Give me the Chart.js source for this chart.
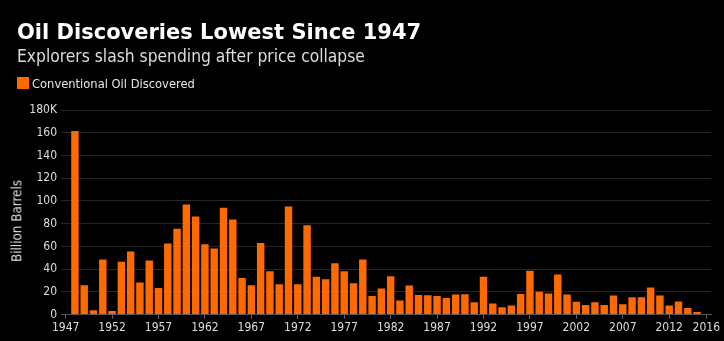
<!DOCTYPE html>
<html>
<head>
<meta charset="utf-8">
<script src="https://cdn.jsdelivr.net/npm/chart.js@4"></script>
<style>
  html, body { margin: 0; padding: 0; background: #000; }
  #wrap { position: relative; width: 724px; height: 341px; overflow: hidden; }
  #chart { position: absolute; left: 0; top: 0; }
  .hdr { position: absolute; left: 17px; line-height: 1; white-space: nowrap; font-family: 'DejaVu Sans Condensed', 'DejaVu Sans', sans-serif; font-stretch: condensed; }
  #title { top: 22px; font-family: 'DejaVu Sans', sans-serif; font-stretch: normal; font-size: 21px; font-weight: bold; color: #fff; }
  #subtitle { top: 48px; font-size: 17.3px; color: #ddd; }
  #legend { top: 77px; font-size: 12.8px; color: #e6e6e6; }
  #legend span.box { display: inline-block; width: 12px; height: 12px; background: #ff6a00; vertical-align: -1px; margin-right: 3px; }
  #ytitle { left: 17px; top: 221px; font-size: 13.3px; color: #ddd; transform: translate(-50%, -50%) rotate(-90deg); }
</style>
</head>
<body>
<div id="wrap">
  <canvas id="chart" width="724" height="341"></canvas>
  <div class="hdr" id="title">Oil Discoveries Lowest Since 1947</div>
  <div class="hdr" id="subtitle">Explorers slash spending after price collapse</div>
  <div class="hdr" id="legend"><span class="box"></span>Conventional Oil Discovered</div>
  <div class="hdr" id="ytitle">Billion Barrels</div>
</div>
<script>
const years = [
  1947, 1948, 1949, 1950, 1951, 1952, 1953, 1954, 1955, 1956,
  1957, 1958, 1959, 1960, 1961, 1962, 1963, 1964, 1965, 1966,
  1967, 1968, 1969, 1970, 1971, 1972, 1973, 1974, 1975, 1976,
  1977, 1978, 1979, 1980, 1981, 1982, 1983, 1984, 1985, 1986,
  1987, 1988, 1989, 1990, 1991, 1992, 1993, 1994, 1995, 1996,
  1997, 1998, 1999, 2000, 2001, 2002, 2003, 2004, 2005, 2006,
  2007, 2008, 2009, 2010, 2011, 2012, 2013, 2014, 2015, 2016
];

// billion barrels per year
const oilDiscovered = [
  0, 161.5, 25.8, 3.8, 48.4, 3.2, 46.4, 55.5, 28.2, 47.6,
  23.5, 62.5, 75.5, 96.9, 86.3, 62, 58.1, 94, 83.7, 32.3,
  25.8, 63.1, 38.2, 26.7, 95.1, 26.7, 78.7, 33.2, 31.1, 45.2,
  38.2, 27.6, 48.4, 16.4, 22.9, 33.8, 12.3, 25.5, 17.3, 17,
  16.4, 14.7, 17.6, 17.9, 10.9, 33.2, 9.7, 6.5, 7.9, 18.2,
  38.5, 20, 18.5, 35.2, 17.6, 11.2, 8.5, 10.9, 8.5, 16.7,
  9.1, 15.3, 15.3, 23.8, 16.7, 7.9, 11.5, 5.9, 2.3, null
];

const tickYears = [1947, 1952, 1957, 1962, 1967, 1972, 1977, 1982, 1987, 1992, 1997, 2002, 2007, 2012, 2016];
const yTicks = [0, 20, 40, 60, 80, 100, 120, 140, 160, 180];

const fontFamily = "'DejaVu Sans Condensed', 'DejaVu Sans', sans-serif";

new Chart(document.getElementById('chart'), {
  type: 'bar',
  data: {
    labels: years.map(String),
    datasets: [{
      label: 'Conventional Oil Discovered',
      data: oilDiscovered,
      backgroundColor: '#ff6a00',
      borderWidth: 0,
      categoryPercentage: 1,
      barPercentage: 0.8
    }]
  },
  options: {
    responsive: false,
    animation: false,
    layout: { padding: { top: 110, right: 13, bottom: 4, left: 0 } },
    plugins: {
      legend: { display: false },
      tooltip: { enabled: false }
    },
    scales: {
      x: {
        grid: {
          display: true,
          drawOnChartArea: false,
          drawTicks: true,
          tickLength: 4,
          offset: false,
          color: ctx => tickYears.includes(years[ctx.index]) ? '#5b6b82' : 'rgba(0,0,0,0)'
        },
        border: { color: '#555' },
        ticks: {
          autoSkip: false,
          maxRotation: 0,
          padding: 2,
          color: '#ddd',
          font: { family: fontFamily, size: 12 },
          callback: (val, i) => tickYears.includes(years[i]) ? String(years[i]) : ''
        }
      },
      y: {
        min: 0,
        max: 180,
        afterBuildTicks: scale => { scale.ticks = yTicks.map(v => ({ value: v })); },
        afterFit: scale => { scale.width = 61; },
        grid: { color: '#262626', drawTicks: false },
        border: { display: false },
        ticks: {
          padding: 4,
          color: '#ddd',
          font: { family: fontFamily, size: 12 },
          callback: v => v === 180 ? '180K' : String(v)
        }
      }
    }
  }
});
</script>
</body>
</html>
